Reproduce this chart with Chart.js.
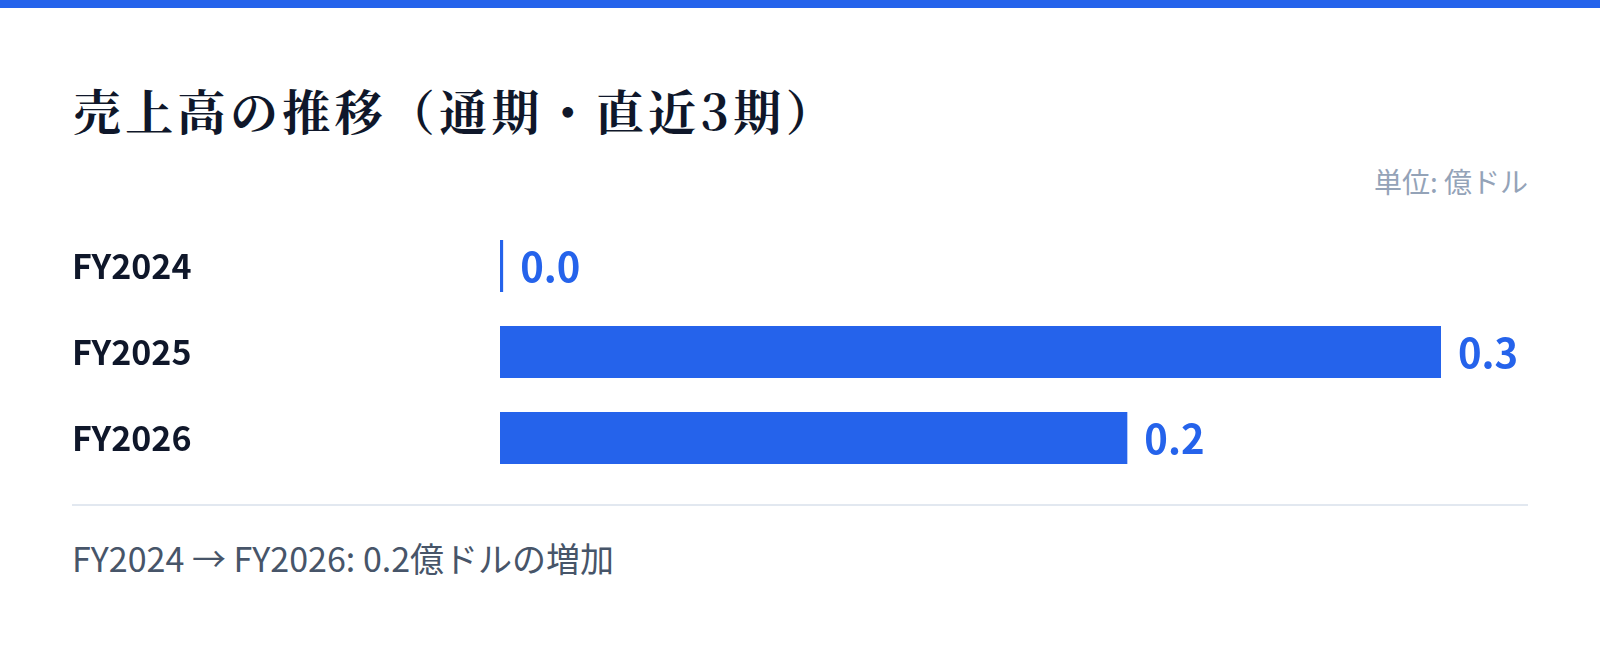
<!DOCTYPE html>
<html lang="ja">
<head>
<meta charset="utf-8">
<script src="https://cdn.jsdelivr.net/npm/chart.js@4/dist/chart.umd.min.js"></script>
<style>
	html, body { margin: 0; padding: 0; background: #ffffff; }
	body { width: 1600px; height: 647px; position: relative; overflow: hidden; font-family: "Noto Sans CJK JP", "Noto Sans", sans-serif; }
	.topbar { position: absolute; left: 0; top: 0; width: 1600px; height: 8px; background: #2563EB; }
	.title { position: absolute; left: 73px; top: 86px; font-family: "Noto Serif CJK JP", "Noto Serif JP", serif; font-weight: 700; font-size: 48px; line-height: 48px; letter-spacing: 4.3px; color: #0F172A; white-space: nowrap; }
	.unit { position: absolute; right: 72px; top: 167px; font-size: 28px; line-height: 28px; color: #94A3B8; white-space: nowrap; }
	.chart-box { position: absolute; left: 72px; top: 223px; width: 1456px; height: 258px; }
	.divider { position: absolute; left: 72px; top: 504px; width: 1456px; height: 2px; background: #E2E8F0; }
	.note { position: absolute; left: 72px; top: 541px; font-size: 34px; line-height: 34px; color: #475569; white-space: nowrap; }
</style>
</head>
<body>
<div class="topbar"></div>
<div class="title">売上高の推移（通期・直近3期）</div>
<div class="unit">単位: 億ドル</div>
<div class="chart-box"><canvas id="salesChart"></canvas></div>
<div class="divider"></div>
<div class="note">FY2024 → FY2026: 0.2億ドルの増加</div>

<script>
	// 売上高（億ドル）
	var periods = ["FY2024", "FY2025", "FY2026"];
	var sales = [0.001, 0.3, 0.2];

	var color = {
		blue: "#2563EB",
		dark: "#0F172A"
	};

	// 棒の右側に値を表示
	var valueLabels = {
		id: "valueLabels",
		afterDatasetsDraw: function (chart) {
			var ctx = chart.ctx;
			var meta = chart.getDatasetMeta(0);
			ctx.save();
			ctx.font = "700 40px 'Noto Sans CJK JP', 'Noto Sans', sans-serif";
			ctx.fillStyle = color["blue"];
			ctx.textAlign = "left";
			ctx.textBaseline = "middle";
			meta.data.forEach(function (bar, i) {
				ctx.fillText(sales[i].toFixed(1), bar.x + 17, bar.y + 1);
			});
			ctx.restore();
		}
	};

	var ctx = document.getElementById("salesChart").getContext("2d");
	var salesChart = new Chart(ctx, {
		type: "bar",
		data: {
			labels: periods,
			datasets: [
				{
					data: sales,
					backgroundColor: color["blue"],
					borderWidth: 0,
					barPercentage: 0.605,
					categoryPercentage: 1.0,
					minBarLength: 3
				}
			]
		},
		options: {
			indexAxis: "y",
			responsive: true,
			maintainAspectRatio: false,
			animation: false,
			layout: { autoPadding: false, padding: { left: 0, right: 87, top: 0, bottom: 0 } },
			plugins: {
				legend: { display: false },
				tooltip: { enabled: false }
			},
			scales: {
				x: {
					display: false,
					min: 0,
					max: Math.max.apply(null, sales)
				},
				y: {
					grid: { display: false, drawTicks: false },
					border: { display: false },
					ticks: {
						crossAlign: "far",
						padding: 0,
						color: color["dark"],
						font: { family: "'Noto Sans CJK JP', 'Noto Sans', sans-serif", size: 34, weight: "700" }
					},
					afterFit: function (scale) {
						scale.width = 428;
						scale.paddingTop = 0;
						scale.paddingBottom = 0;
					}
				}
			}
		},
		plugins: [valueLabels]
	});
</script>
</body>
</html>
